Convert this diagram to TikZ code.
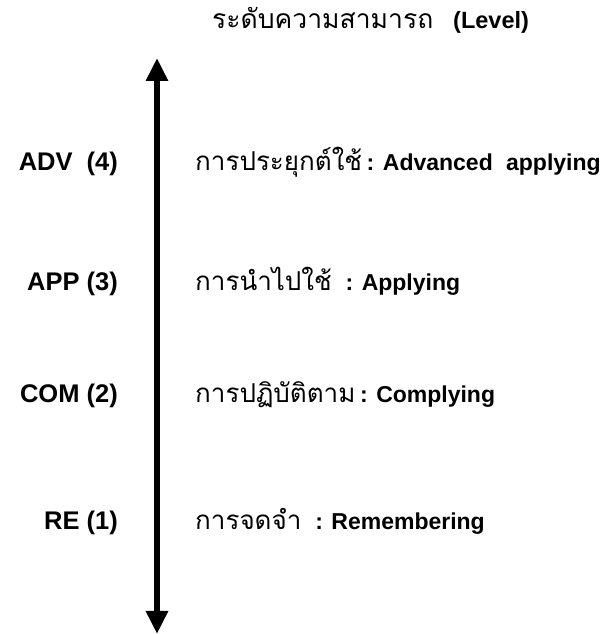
\documentclass[tikz,border=0pt]{standalone}
\usepackage{fontspec}
\setmainfont{Liberation Sans}
\newfontfamily\thaifont[Script=Thai]{Loma}
\usetikzlibrary{arrows.meta}
\newcommand{\thi}[1]{{\thaifont\mdseries\fontsize{26}{30}\selectfont #1}}
\begin{document}
\begin{tikzpicture}[x=1pt,y=1pt,
  lvl/.style={anchor=base east,font=\fontsize{25.5}{30}\selectfont\bfseries,inner sep=0pt},
  desc/.style={anchor=base west,font=\fontsize{23}{28}\selectfont\bfseries,inner sep=0pt},
  axisarrow/.style={line width=6pt,{Triangle[width=21pt,length=23pt]}-{Triangle[width=21pt,length=23pt]}}]
\useasboundingbox (0,0) rectangle (606,634);
\coordinate (top) at (157,576);
\coordinate (bot) at (157,0);
\draw[axisarrow] (bot) -- (top);
\node[anchor=base west,font=\thaifont\fontsize{26.5}{30}\selectfont,inner sep=0pt] (titleth) at (212,605) {ระดับความสามารถ};
\node[anchor=base west,font=\fontsize{23.5}{28}\selectfont\bfseries,inner sep=0pt] (titlelv) at (453,605) {(Level)};
\node[lvl] (adv) at (118,463) {ADV\hspace{0.55em}(4)};
\node[lvl] (app) at (118,343) {APP (3)};
\node[lvl] (com) at (118,231) {COM (2)};
\node[lvl] (re) at (118,104) {RE (1)};
\node[desc] (dadv) at (195,463) {\thi{การประยุกต์ใช้}\hspace{0.2em}: Advanced\hspace{0.3em} applying};
\node[desc] (dapp) at (195,343) {\thi{การนำไปใช้}\hspace{0.6em}: Applying};
\node[desc] (dcom) at (195,231) {\thi{การปฏิบัติตาม}\hspace{0.2em}: Complying};
\node[desc] (dre) at (195,104) {\thi{การจดจำ}\hspace{0.6em}: Remembering};
\end{tikzpicture}
\end{document}
